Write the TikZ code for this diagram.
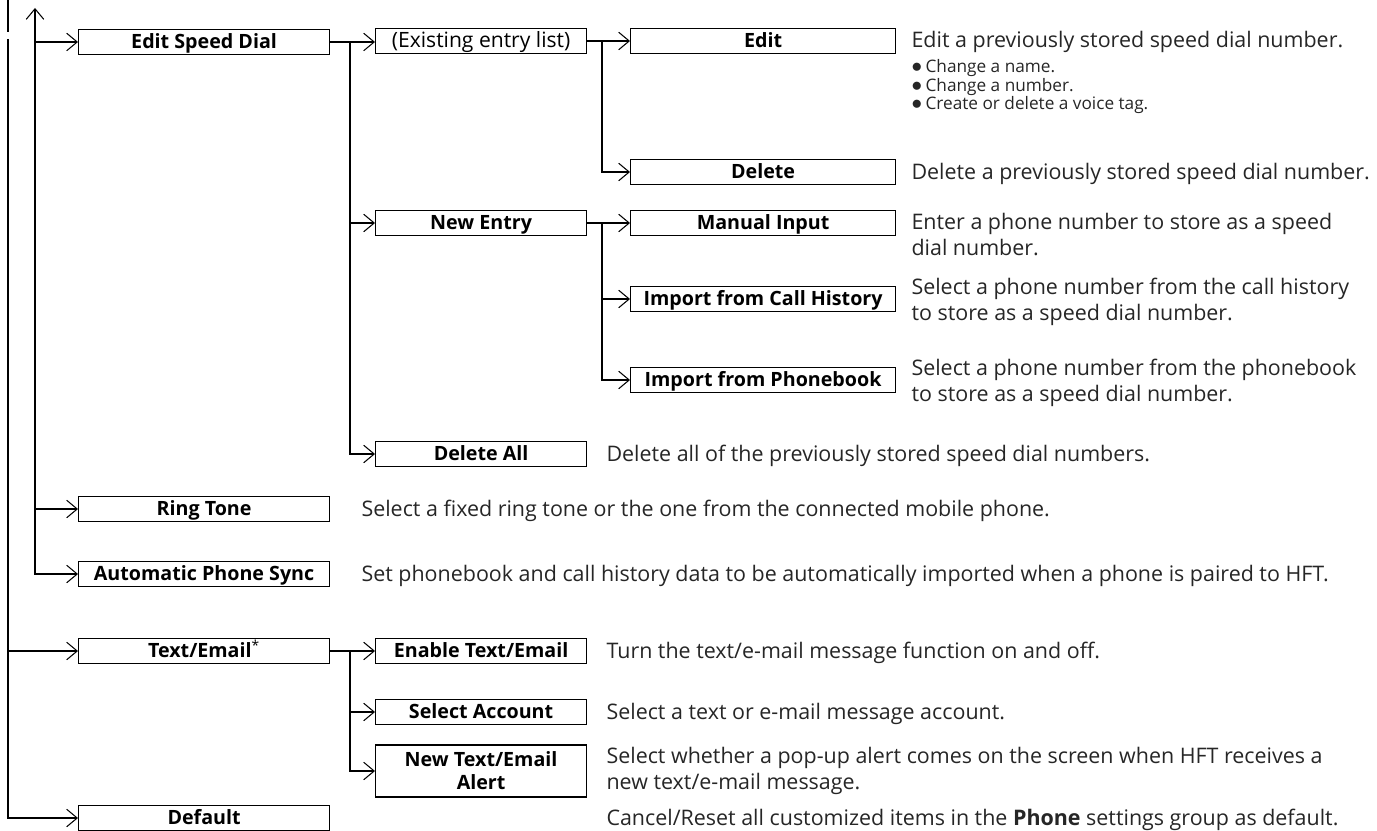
\documentclass[tikz,border=0pt]{standalone}
\usepackage{fontspec}
\setmainfont{Open Sans}
\usetikzlibrary{arrows.meta}

\tikzset{
  menuarrow/.tip={Straight Barb[length=6pt,width=10pt,line width=0.6pt]},
  trunk/.style={line width=1.1pt},
  menu/.style={draw, line width=0.7pt, anchor=west, inner sep=1pt,
    minimum height=0.5cm, font=\bfseries\fontsize{11.2}{13}\selectfont},
  onerow/.style={text height=8.3pt, text depth=1.4pt},
  lvla/.style={menu, onerow, minimum width=5.02cm},
  lvlb/.style={menu, onerow, minimum width=4.22cm},
  lvlc/.style={menu, onerow, minimum width=5.3cm},
  note/.style={anchor=north west, inner sep=0pt, align=left,
    font=\fontsize{12.2}{14.9}\selectfont, text=black!85},
}
\newcommand{\itemdot}{{\fontsize{12}{0}\selectfont$\bullet$}\hspace{2pt}}

\begin{document}
\begin{tikzpicture}[x=0.02cm, y=-0.02cm]
  \useasboundingbox (0,0) rectangle (1377,831);

  % first level
  \node[lvla] (esd) at (78,42) {Edit Speed Dial};
  \node[lvla] (ring) at (78,509) {Ring Tone};
  \node[lvla] (aps) at (78,574) {Automatic Phone Sync};
  \node[lvla] (txt) at (78,651) {Text/Email\textsuperscript{\normalfont*}};
  \node[lvla] (dflt) at (78,818) {Default};

  % second level
  \node[lvlb, font=\fontsize{12}{13}\selectfont] (list) at (375,41) {(Existing entry list)};
  \node[lvlb] (new) at (375,223) {New Entry};
  \node[lvlb] (delall) at (375,454) {Delete All};
  \node[lvlb] (enable) at (375,651) {Enable Text/Email};
  \node[lvlb] (acct) at (375,712) {Select Account};
  \node[menu, minimum width=4.22cm, minimum height=1.04cm, align=center] (alert) at (375,771) {New Text/Email\\Alert};

  % third level
  \node[lvlc] (edit) at (630,41) {Edit};
  \node[lvlc] (del) at (630,172) {Delete};
  \node[lvlc] (manual) at (630,223) {Manual Input};
  \node[lvlc] (hist) at (630,299) {Import from Call History};
  \node[lvlc] (book) at (630,380) {Import from Phonebook};

  % descriptions
  \node[note] (d-edit) at ([xshift=0.3cm,yshift=-1.6pt]edit.north east) {Edit a previously stored speed dial number.};
  \node[note, font=\fontsize{9.8}{10.5}\selectfont] (d-bul) at ([yshift=-3.6pt]d-edit.south west)
    {\itemdot Change a name.\\\itemdot Change a number.\\\itemdot Create or delete a voice tag.};
  \node[note] (d-del) at ([xshift=0.3cm,yshift=-2.2pt]del.north east) {Delete a previously stored speed dial number.};
  \node[note] (d-manual) at ([xshift=0.3cm,yshift=-1.5pt]manual.north east) {Enter a phone number to store as a speed\\dial number.};
  \node[note, anchor=west] (d-hist) at ([xshift=0.3cm,yshift=-1.6pt]hist.east) {Select a phone number from the call history\\to store as a speed dial number.};
  \node[note, anchor=west] (d-book) at ([xshift=0.3cm,yshift=-1.6pt]book.east) {Select a phone number from the phonebook\\to store as a speed dial number.};
  \node[note] (d-delall) at ([xshift=0.38cm,yshift=-2.2pt]delall.north east) {Delete all of the previously stored speed dial numbers.};
  \node[note] (d-ring) at ([xshift=0.62cm,yshift=-2.2pt]ring.north east) {Select a fixed ring tone or the one from the connected mobile phone.};
  \node[note] (d-aps) at ([xshift=0.62cm,yshift=-2.2pt]aps.north east) {Set phonebook and call history data to be automatically imported when a phone is paired to HFT.};
  \node[note] (d-enable) at ([xshift=0.38cm,yshift=-2.2pt]enable.north east) {Turn the text/e-mail message function on and off.};
  \node[note] (d-acct) at ([xshift=0.38cm,yshift=-2.2pt]acct.north east) {Select a text or e-mail message account.};
  \node[note, anchor=west] (d-alert) at ([xshift=0.38cm]alert.east) {Select whether a pop-up alert comes on the screen when HFT receives a\\new text/e-mail message.};
  \node[note] (d-dflt) at ([yshift=-2.2pt]dflt.north -| d-alert.west) {Cancel/Reset all customized items in the \textbf{Phone} settings group as default.};

  % trunks
  \coordinate (o-top) at (8,0);
  \coordinate (o-brk) at (8,32);
  \coordinate (o-go) at (8,39);
  \coordinate (up) at (35,8);
  \coordinate (j1) at (350,0);
  \coordinate (j2) at (602,0);

  \draw[trunk] (o-top) -- (o-brk);
  \draw[trunk,-menuarrow] (o-go) |- (dflt.west);
  \draw[trunk,-menuarrow] (o-go |- txt.west) -- (txt.west);
  \draw[trunk,menuarrow-menuarrow] (up) |- (aps.west);
  \draw[trunk,-menuarrow] (up |- esd.west) -- (esd.west);
  \draw[trunk,-menuarrow] (up |- ring.west) -- (ring.west);

  % edit speed dial
  \draw[trunk,-menuarrow] (esd.east) -- (esd.east -| list.west);
  \draw[trunk,-menuarrow] (j1 |- esd.east) |- (delall.west);
  \draw[trunk,-menuarrow] (j1 |- new.west) -- (new.west);
  \draw[trunk,-menuarrow] (list.east) -- (edit.west);
  \draw[trunk,-menuarrow] (j2 |- list.east) |- (del.west);
  \draw[trunk,-menuarrow] (new.east) -- (manual.west);
  \draw[trunk,-menuarrow] (j2 |- new.east) |- (book.west);
  \draw[trunk,-menuarrow] (j2 |- hist.west) -- (hist.west);

  % text/email
  \draw[trunk,-menuarrow] (txt.east) -- (enable.west);
  \draw[trunk,-menuarrow] (j1 |- txt.east) |- (alert.west);
  \draw[trunk,-menuarrow] (j1 |- acct.west) -- (acct.west);
\end{tikzpicture}
\end{document}
